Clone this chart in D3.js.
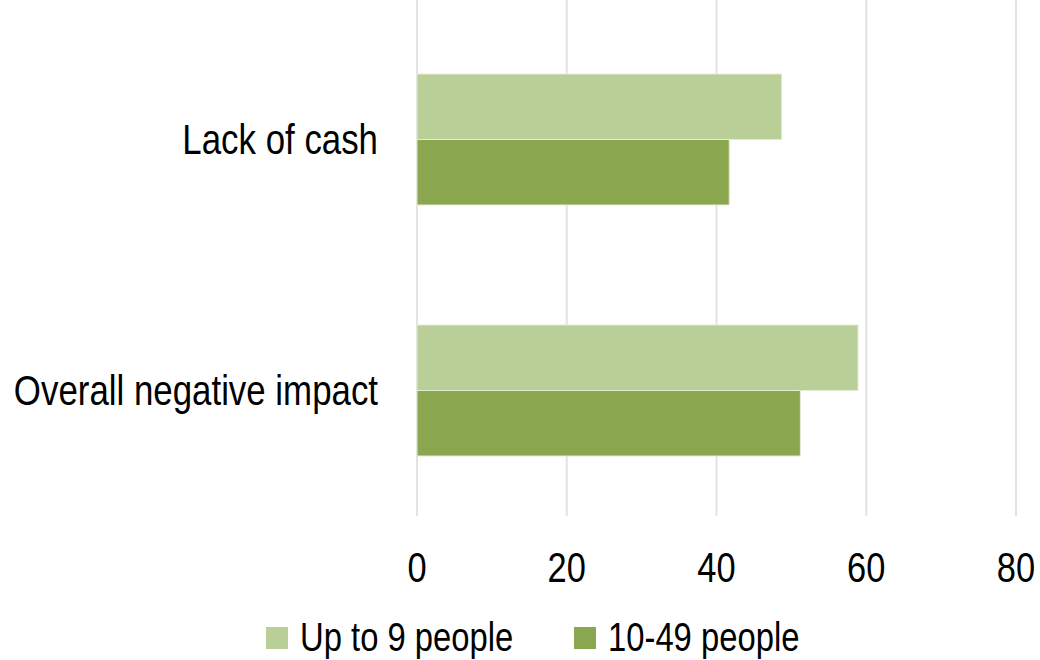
<!DOCTYPE html>
<html lang="en">
<head>
  <meta charset="UTF-8" />
  <title>Lack of cash by firm size</title>
  <script src="https://d3js.org/d3.v7.min.js"></script>
  <style>
    body {
      background-color: white;
      margin: 0;
      font-family: "Liberation Sans", Arial, sans-serif;
    }

    svg {
      display: block;
    }

    .grid line {
      stroke: #e3e3e3;
      stroke-width: 2px;
    }

    .tick-label {
      font-size: 42px;
      fill: #000;
    }

    .cat-label {
      font-size: 42.5px;
      fill: #000;
    }

    .legend text {
      font-size: 40px;
      fill: #000;
    }
  </style>
</head>
<body>
  <svg></svg>

  <script>
    const width = 1040;
    const height = 660;
    const narrow = 0.82; // no Arial Narrow here, so squeeze Liberation Sans

    // data
    const categories = ["Lack of cash", "Overall negative impact"];
    const seriesNames = ["Up to 9 people", "10-49 people"];
    const seriesColors = ["#bacf98", "#8aa64e"];
    const upTo9 = [48.7, 58.9];
    const from10to49 = [41.7, 51.2];
    const xTicks = [0, 20, 40, 60, 80];

    const values = [upTo9, from10to49];

    const svg = d3.select("svg")
      .attr("width", width)
      .attr("height", height);

    const x = d3.scaleLinear()
      .domain([0, 80])
      .range([417, 1016]);

    const y = d3.scaleBand()
      .domain(categories)
      .range([14, 516])
      .paddingInner(0.478)
      .paddingOuter(0.239);

    const ySub = d3.scaleBand()
      .domain(seriesNames)
      .range([0, y.bandwidth()]);

    // gridlines
    svg.append("g")
      .attr("class", "grid")
      .selectAll("line")
      .data(xTicks)
      .enter().append("line")
      .attr("x1", d => x(d))
      .attr("x2", d => x(d))
      .attr("y1", 0)
      .attr("y2", 516);

    // bars
    const groups = svg.append("g")
      .selectAll("g")
      .data(categories)
      .enter().append("g")
      .attr("transform", d => `translate(0,${y(d)})`);

    groups.selectAll("rect")
      .data((c, i) => seriesNames.map((s, j) => ({ s, j, v: values[j][i] })))
      .enter().append("rect")
      .attr("x", x(0))
      .attr("y", d => ySub(d.s))
      .attr("width", d => x(d.v) - x(0))
      .attr("height", ySub.bandwidth())
      .attr("fill", d => seriesColors[d.j])
      .attr("stroke", "#e4ecd6")
      .attr("stroke-width", 1);

    // category labels
    svg.append("g")
      .selectAll("text")
      .data(categories)
      .enter().append("text")
      .attr("class", "cat-label")
      .attr("transform", d => `translate(378,${y(d) + y.bandwidth() / 2 + 14}) scale(${narrow},1)`)
      .attr("text-anchor", "end")
      .text(d => d);

    // x tick labels
    svg.append("g")
      .selectAll("text")
      .data(xTicks)
      .enter().append("text")
      .attr("class", "tick-label")
      .attr("transform", d => `translate(${x(d)},582) scale(${narrow},1)`)
      .attr("text-anchor", "middle")
      .text(d => d);

    // legend
    const legendX = [266, 574];
    const legend = svg.append("g")
      .attr("class", "legend")
      .selectAll("g")
      .data(seriesNames)
      .enter().append("g")
      .attr("transform", (d, i) => `translate(${legendX[i]},627)`);

    legend.append("rect")
      .attr("width", 22)
      .attr("height", 22)
      .attr("fill", (d, i) => seriesColors[i]);

    legend.append("text")
      .attr("transform", `translate(34,24) scale(${narrow},1)`)
      .text(d => d);
  </script>
</body>
</html>
